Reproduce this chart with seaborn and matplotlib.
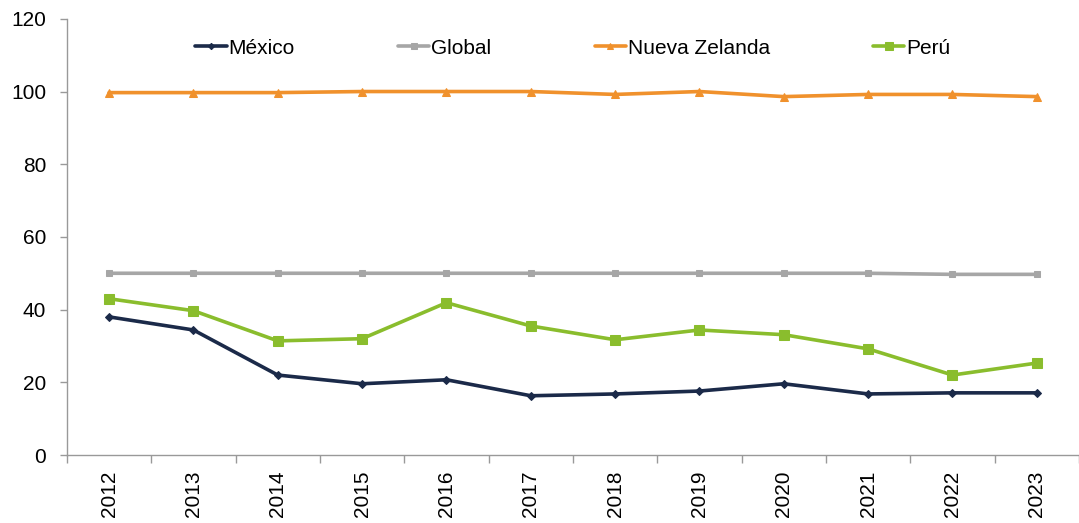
import pandas as pd
import numpy as np
import matplotlib.pyplot as plt
import seaborn as sns

# ========== DATOS ==========
years = ['2012', '2013', '2014', '2015', '2016', '2017', '2018', '2019', '2020', '2021', '2022', '2023']
mexico = [38.0, 34.4, 22.0, 19.6, 20.7, 16.3, 16.8, 17.6, 19.6, 16.8, 17.1, 17.1]
global_ = [50.0, 50.0, 50.0, 50.0, 50.0, 50.0, 50.0, 50.0, 50.0, 50.0, 49.7, 49.7]
nueva_zelanda = [99.7, 99.7, 99.7, 100.0, 100.0, 100.0, 99.2, 100.0, 98.6, 99.2, 99.2, 98.6]
peru = [43.0, 39.7, 31.4, 32.0, 41.9, 35.5, 31.7, 34.4, 33.1, 29.2, 22.0, 25.3]

series = ['México', 'Global', 'Nueva Zelanda', 'Perú']
colors = ['#1b2a49', '#a6a6a6', '#f0912c', '#8abd2d']
markers = ['D', 's', '^', 's']
msizes = [4, 5, 6, 7]

df = pd.DataFrame({'year': years, 'México': mexico, 'Global': global_,
                   'Nueva Zelanda': nueva_zelanda, 'Perú': peru})
long = df.melt(id_vars='year', var_name='serie', value_name='valor')
long['x'] = long['year'].map({y: i for i, y in enumerate(years)})

# ========== GRAFICO ==========
sns.set_style('white')
plt.rcParams['font.family'] = ['Liberation Sans', 'DejaVu Sans']
plt.rcParams['text.color'] = 'black'
plt.rcParams['xtick.labelcolor'] = 'black'
plt.rcParams['ytick.labelcolor'] = 'black'

fig = plt.figure(figsize=(10.79, 5.23), dpi=100)
ax = fig.add_axes([0.062, 0.13, 0.938, 0.834])

for s, c, m, ms in zip(series, colors, markers, msizes):
    sns.lineplot(data=long[long['serie'] == s], x='x', y='valor', color=c,
                 marker=m, markersize=ms, markeredgecolor=c, linewidth=2.6,
                 label=s, ax=ax)

ax.set_xlim(-0.5, len(years) - 0.5)
ax.set_ylim(0, 120)
ax.set_yticks(range(0, 121, 20))
ax.set_xticks(range(len(years)))
ax.set_xticklabels(years, rotation=90)
ax.set_xticks(np.arange(-0.5, len(years), 1), minor=True)
ax.tick_params(axis='x', which='both', bottom=True)
ax.tick_params(axis='x', which='major', length=0, pad=11, labelsize=15, labelcolor='black')
ax.tick_params(axis='x', which='minor', length=6, color='#999999', width=1, direction='out')
ax.tick_params(axis='y', left=True, length=5, color='#999999', width=1, direction='out',
               labelsize=15, pad=10, labelcolor='black')
ax.set_xlabel('')
ax.set_ylabel('')
for side in ['top', 'right']:
    ax.spines[side].set_visible(False)
for side in ['left', 'bottom']:
    ax.spines[side].set_color('#999999')
    ax.spines[side].set_linewidth(1)

leg = ax.legend(loc='center', bbox_to_anchor=(0.5, 0.933), ncol=4, frameon=False,
                fontsize=15, handlelength=1.5, handletextpad=0.1, columnspacing=4.95,
                markerscale=0.8)
for t in leg.get_texts():
    t.set_color('black')

plt.savefig('out.png', dpi=100)
